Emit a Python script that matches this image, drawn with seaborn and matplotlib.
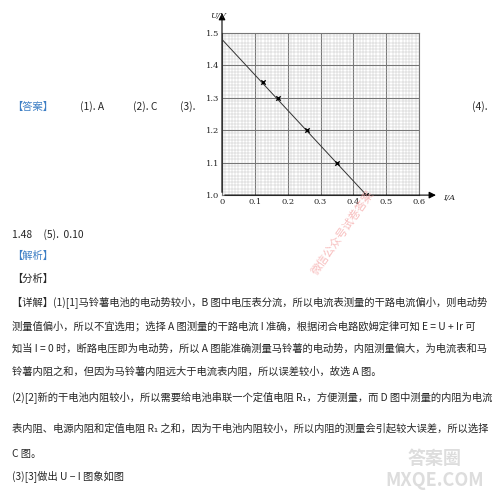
import numpy as np
import matplotlib.pyplot as plt
import seaborn as sns

sns.set_style("white")
plt.rcParams["font.family"] = ["Noto Sans CJK SC", "DejaVu Sans"]

# 数据点 (I/A, U/V)
current = [0.125, 0.17, 0.26, 0.35, 0.44]
voltage = [1.35, 1.30, 1.20, 1.10, 1.00]
fit_i = [0.0, 0.44]
fit_u = [1.48, 1.00]
x_ticks = [0, 0.1, 0.2, 0.3, 0.4, 0.5, 0.6]
y_ticks = [1.0, 1.1, 1.2, 1.3, 1.4, 1.5]

fig = plt.figure(figsize=(5, 4.99), dpi=100)
ax = fig.add_axes([0.444, 0.609, 0.394, 0.325])
sns.lineplot(x=fit_i, y=fit_u, color="#333333", lw=0.7, ax=ax)
sns.scatterplot(x=current, y=voltage, marker="x", s=10, color="black", linewidth=1, ax=ax, zorder=5)
ax.set_xlim(0, 0.6)
ax.set_ylim(1.0, 1.5)
ax.set_xticks(x_ticks)
ax.set_xticklabels(["0", "0.1", "0.2", "0.3", "0.4", "0.5", "0.6"])
ax.set_yticks(y_ticks)
ax.set_xticks(np.arange(0, 0.601, 0.01), minor=True)
ax.set_yticks(np.arange(1.0, 1.501, 0.01), minor=True)
ax.grid(which="major", color="#777777", lw=0.8)
ax.grid(which="minor", color="#bbbbbb", lw=0.3)
ax.tick_params(which="both", length=0, labelsize=6, pad=2)
for lab in ax.get_xticklabels() + ax.get_yticklabels():
    lab.set_family("DejaVu Serif")
for s in ax.spines.values():
    s.set_color("#777777")
    s.set_linewidth(0.8)
ax.annotate("", xy=(1.1, 0), xytext=(0, 0), xycoords="axes fraction",
            arrowprops=dict(arrowstyle="-|>", color="black", lw=0.8), annotation_clip=False)
ax.annotate("", xy=(0, 1.14), xytext=(0, 0), xycoords="axes fraction",
            arrowprops=dict(arrowstyle="-|>", color="black", lw=0.8), annotation_clip=False)
ax.text(1.12, -0.03, "I/A", transform=ax.transAxes, fontsize=6, style="italic", family="DejaVu Serif")
ax.text(-0.06, 1.09, "U/V", transform=ax.transAxes, fontsize=6, style="italic", family="DejaVu Serif")

fs = 7.4
def line(x, y, s, **kw):
    fig.text(x / 500, 1 - y / 499, s, fontsize=fs, va="center", **kw)

line(12, 107, "【答案】", color="#3b7dc4")
line(80, 107, "(1). A")
line(133, 107, "(2). C")
line(180, 107, "(3).")
line(472, 107, "(4).")
line(12, 235, "1.48     (5).  0.10")
line(12, 256, "【解析】", color="#3b7dc4")
line(12, 279, "【分析】")
line(12, 302, "【详解】(1)[1]马铃薯电池的电动势较小，B 图中电压表分流，所以电流表测量的干路电流偏小，则电动势")
line(12, 326, "测量值偏小，所以不宜选用；选择 A 图测量的干路电流 I 准确，根据闭合电路欧姆定律可知 E = U + Ir 可")
line(12, 349, "知当 I = 0 时，断路电压即为电动势，所以 A 图能准确测量马铃薯的电动势，内阻测量偏大，为电流表和马")
line(12, 372, "铃薯内阻之和，但因为马铃薯内阻远大于电流表内阻，所以误差较小，故选 A 图。")
line(12, 397, "(2)[2]新的干电池内阻较小，所以需要给电池串联一个定值电阻 R₁，方便测量，而 D 图中测量的内阻为电流")
line(12, 428, "表内阻、电源内阻和定值电阻 R₁ 之和，因为干电池内阻较小，所以内阻的测量会引起较大误差，所以选择")
line(12, 454, "C 图。")
line(12, 477, "(3)[3]做出 U − I 图象如图")
fig.text(0.62, 0.45, "微信公众号试卷答案", color="#f4a0a0", fontsize=8, rotation=55, alpha=0.7)
fig.text(0.87, 0.06, "答案圈\nMXQE.COM", color="#dddddd", fontsize=13, ha="center", va="center", fontweight="bold")

fig.savefig("out.png", dpi=100)
